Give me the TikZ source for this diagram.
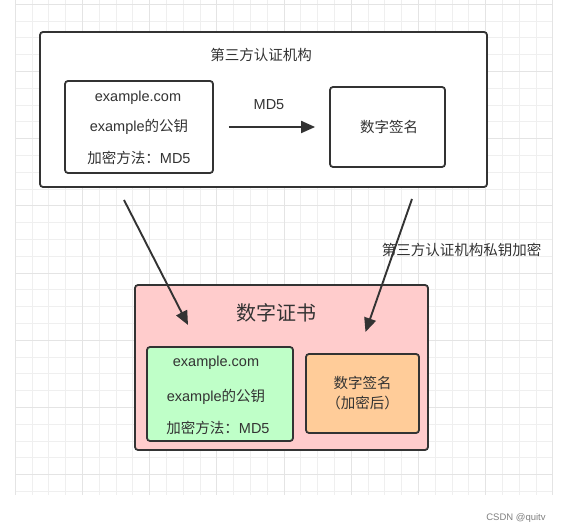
\documentclass[tikz,border=0pt]{standalone}
\usepackage{fontspec}
\setmainfont{Liberation Sans}
\newfontfamily\cjk{Noto Sans CJK SC}
\usetikzlibrary{arrows.meta}
\definecolor{ink}{HTML}{333333}
\definecolor{txt}{HTML}{333333}
\definecolor{gridminor}{HTML}{EFEFEF}
\definecolor{gridmajor}{HTML}{E4E4E4}
\definecolor{pinkfill}{HTML}{FFCCCC}
\definecolor{greenfill}{HTML}{BFFFC8}
\definecolor{orangefill}{HTML}{FFCC99}
\tikzset{
  box/.style={draw=ink, line width=1.8pt, rounded corners=3pt, inner sep=0pt},
  lbl/.style={text=txt, font=\fontsize{14.5}{16}\selectfont, inner sep=0pt},
  big/.style={text=txt, font=\fontsize{20}{22}\selectfont\cjk, inner sep=0pt},
  arr/.style={draw=ink, line width=1.9pt, -{Triangle[length=14pt,width=12pt]}},
}
\begin{document}
\begin{tikzpicture}[x=1pt,y=-1pt]
\useasboundingbox (0,0) rectangle (563,532);
\fill[white] (0,0) rectangle (563,532);
% grid
\foreach \k in {0,...,32} {
  \draw[gridminor, line width=0.7pt] ({15.2+16.8*\k},0) -- ({15.2+16.8*\k},495);
}
\foreach \k in {0,...,29} {
  \draw[gridminor, line width=0.7pt] (15.2,{4.2+16.8*\k}) -- (552.8,{4.2+16.8*\k});
}
\foreach \k in {0,...,8} {
  \draw[gridmajor, line width=0.8pt] ({15.2+67.2*\k},0) -- ({15.2+67.2*\k},495);
}
\foreach \k in {0,...,7} {
  \draw[gridmajor, line width=0.8pt] (15.2,{4.2+67.2*\k}) -- (552.8,{4.2+67.2*\k});
}
% top authority box
\node[box, fill=white, minimum width=447pt, minimum height=155pt] (ca) at (263.5,109.5) {};
\node[lbl] (catitle) at (261,55) {\cjk 第三方认证机构};
\node[box, fill=white, minimum width=148pt, minimum height=92pt] (src) at (139,127) {};
\node[lbl] (s1) at (138,98) {example.com};
\node[lbl] (s2) at (139,127) {example{\cjk 的公钥}};
\node[lbl] (s3) at (139,158) {{\cjk 加密方法：}MD5};
\node[box, fill=white, minimum width=115pt, minimum height=80pt] (sig) at (387.5,127) {};
\node[lbl] (sigt) at (389,127) {\cjk 数字签名};
\draw[arr, shorten <=15pt, shorten >=14pt] (src.east) -- (sig.west);
\node[lbl] (md5) at (269,105) {MD5};
% certificate box
\node[box, fill=pinkfill, minimum width=293pt, minimum height=165pt] (cert) at (281.5,367.5) {};
\node[big] (certt) at (276,313) {数字证书};
\node[box, fill=greenfill, minimum width=146pt, minimum height=94pt] (info) at (220,394) {};
\node[lbl] (i1) at (216,363) {example.com};
\node[lbl] (i2) at (216,397) {example{\cjk 的公钥}};
\node[lbl] (i3) at (218,428) {{\cjk 加密方法：}MD5};
\node[box, fill=orangefill, minimum width=113pt, minimum height=79pt] (esig) at (362.5,393.5) {};
\node[lbl, align=center, font=\fontsize{14.5}{20}\selectfont\cjk] (esigt) at (362.5,393.5) {数字签名\\（加密后）};
% connectors
\coordinate (p1) at (124,200);
\coordinate (p1e) at (188,325);
\coordinate (p2) at (412,199);
\coordinate (p2e) at (365.5,332);
\draw[arr] (p1) -- (p1e);
\draw[arr] (p2) -- (p2e);
\node[lbl] (enc) at (461.5,250) {\cjk 第三方认证机构私钥加密};
% watermark
\node[text=gray, font=\fontsize{9.5}{11}\selectfont, inner sep=0pt] (wm) at (516,518) {CSDN @quitv};
\end{tikzpicture}
\end{document}
